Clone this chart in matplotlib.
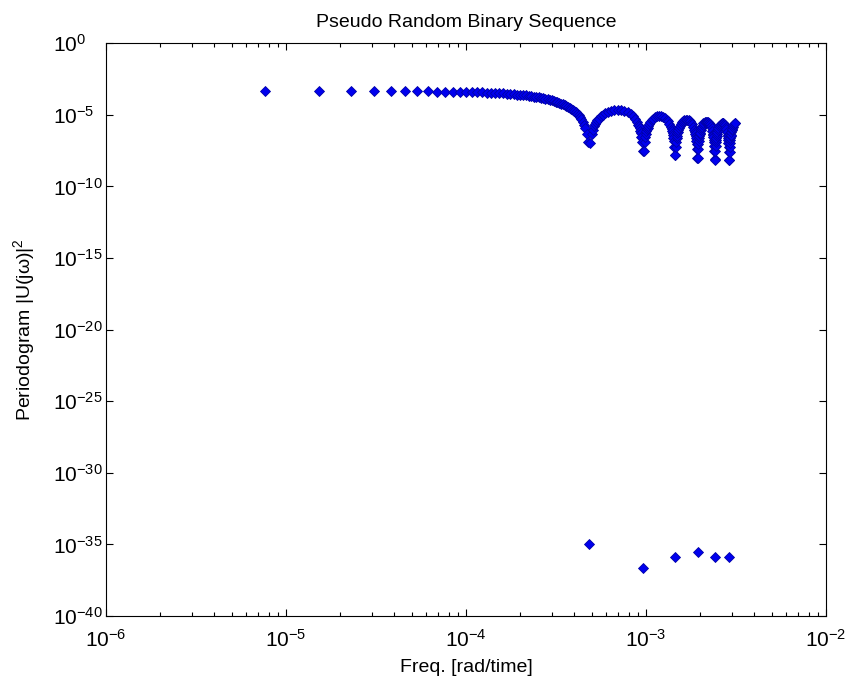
import numpy as np
import matplotlib
matplotlib.use("Agg")
import matplotlib.pyplot as plt
from matplotlib.ticker import FixedLocator, LogLocator, FuncFormatter, NullLocator, NullFormatter

plt.rcParams["font.family"] = ["Liberation Sans", "DejaVu Sans"]
plt.rcParams["mathtext.fontset"] = "custom"
plt.rcParams["mathtext.rm"] = "Liberation Sans"
plt.rcParams["mathtext.it"] = "Liberation Sans:italic"
plt.rcParams["mathtext.bf"] = "Liberation Sans:bold"
plt.rcParams["mathtext.default"] = "regular"

FREQ_RES = 7.672e-6   # rad/time per frequency bin

# periodogram: frequency bin -> log10 |U(jw)|^2
bins_lobe1 = [1, 2, 3, 4, 5, 6, 7, 8, 9, 10,
              11, 12, 13, 14, 15, 16, 17, 18, 19, 20,
              21, 22, 23, 24, 25, 26, 27, 28, 29, 30,
              31, 32, 33, 34, 35, 36, 37, 38, 39, 40,
              41, 42, 43, 44, 45, 46, 47, 48, 49, 50,
              51, 52, 53, 54, 55, 56, 57, 58, 59, 60,
              61, 62]
logp_lobe1 = [-3.35, -3.35, -3.35, -3.36, -3.36, -3.36, -3.37, -3.37, -3.38, -3.39,
              -3.39, -3.40, -3.41, -3.42, -3.43, -3.44, -3.46, -3.47, -3.48, -3.50,
              -3.51, -3.53, -3.55, -3.57, -3.59, -3.61, -3.63, -3.65, -3.68, -3.70,
              -3.73, -3.75, -3.78, -3.81, -3.84, -3.88, -3.91, -3.95, -3.99, -4.03,
              -4.07, -4.11, -4.16, -4.21, -4.26, -4.32, -4.38, -4.44, -4.51, -4.58,
              -4.65, -4.74, -4.83, -4.93, -5.04, -5.17, -5.31, -5.48, -5.69, -5.95,
              -6.31, -6.93]

bins_lobe2 = [64, 65, 66, 67, 68, 69, 70, 71, 73, 75, 77, 80, 83, 87, 91,
              95, 99, 103, 107, 110, 113, 116, 118, 119, 120, 121, 122, 123, 124, 125]
logp_lobe2 = [-6.95, -6.37, -6.03, -5.79, -5.62, -5.47, -5.36, -5.26, -5.10, -4.98,
              -4.89, -4.79, -4.72, -4.67, -4.66, -4.68, -4.74, -4.83, -4.96, -5.09,
              -5.26, -5.49, -5.68, -5.80, -5.93, -6.10, -6.29, -6.55, -6.90, -7.51]

bins_lobe3 = [127, 128, 129, 130, 131, 132, 133, 134, 136, 138, 140, 143, 146, 150, 154,
              158, 162, 166, 170, 173, 176, 179, 181, 182, 183, 184, 185, 186, 187, 188]
logp_lobe3 = [-7.52, -6.93, -6.58, -6.34, -6.16, -6.01, -5.89, -5.78, -5.61, -5.48,
              -5.38, -5.26, -5.18, -5.11, -5.08, -5.09, -5.13, -5.21, -5.33, -5.45,
              -5.61, -5.82, -6.01, -6.13, -6.26, -6.42, -6.61, -6.86, -7.22, -7.82]

bins_lobe4 = [190, 191, 192, 193, 194, 195, 196, 197, 199, 201, 203, 206, 209, 213, 217,
              221, 225, 229, 233, 236, 239, 242, 244, 245, 246, 247, 248, 249, 250, 251]
logp_lobe4 = [-7.83, -7.23, -6.89, -6.64, -6.45, -6.30, -6.18, -6.07, -5.90, -5.76,
              -5.66, -5.53, -5.44, -5.37, -5.33, -5.33, -5.36, -5.43, -5.54, -5.66,
              -5.82, -6.03, -6.21, -6.32, -6.46, -6.61, -6.81, -7.06, -7.41, -8.01]

bins_lobe5 = [253, 254, 255, 256, 257, 258, 259, 260, 262, 264, 266, 269, 272, 276, 280,
              284, 288, 292, 296, 299, 302, 305, 307, 308, 309, 310, 311, 312, 313, 314]
logp_lobe5 = [-8.02, -7.42, -7.07, -6.82, -6.64, -6.48, -6.36, -6.25, -6.07, -5.93,
              -5.82, -5.69, -5.60, -5.52, -5.48, -5.47, -5.50, -5.57, -5.67, -5.79,
              -5.94, -6.15, -6.33, -6.44, -6.57, -6.73, -6.92, -7.17, -7.52, -8.12]

bins_lobe6 = [316, 317, 318, 319, 320, 321, 322, 323, 325, 327, 329, 332, 335, 339, 343,
              347, 351, 355, 359, 362, 365, 368, 370, 371, 372, 373, 374, 375, 376, 377]
logp_lobe6 = [-8.13, -7.53, -7.18, -6.93, -6.74, -6.59, -6.46, -6.35, -6.17, -6.03,
              -5.92, -5.79, -5.69, -5.61, -5.56, -5.55, -5.58, -5.64, -5.74, -5.85,
              -6.00, -6.21, -6.39, -6.50, -6.63, -6.78, -6.98, -7.22, -7.57, -8.18]

bins_lobe7 = [379, 380, 381, 382, 383, 384, 385, 386, 388, 390, 392, 395, 398, 402, 406, 409]
logp_lobe7 = [-8.18, -7.58, -7.23, -6.98, -6.79, -6.63, -6.51, -6.40, -6.22, -6.07,
              -5.96, -5.83, -5.73, -5.64, -5.59, -5.58]

# bins that fall exactly on the spectral nulls (numerical zeros)
null_bins = [63, 126, 189, 252, 315, 378]
null_logp = [-35.0, -36.67, -35.9, -35.55, -35.9, -35.9]

bins = np.concatenate([bins_lobe1, bins_lobe2, bins_lobe3, bins_lobe4,
                       bins_lobe5, bins_lobe6, bins_lobe7, null_bins])
logp = np.concatenate([logp_lobe1, logp_lobe2, logp_lobe3, logp_lobe4,
                       logp_lobe5, logp_lobe6, logp_lobe7, null_logp])
freq = bins * FREQ_RES
power = 10.0 ** logp

fig = plt.figure(figsize=(8.51, 6.86), dpi=100)
ax = fig.add_axes([0.1246, 0.102, 0.846, 0.835])
ax.loglog(freq, power, linestyle="none", marker="D", ms=5.3,
          mfc="#0000ee", mec="#0000a8", mew=0.6)

ax.set_xlim(1e-6, 1e-2)
ax.set_ylim(1e-40, 1e0)

pow_fmt = FuncFormatter(lambda v, p: "$10^{%d}$" % int(round(np.log10(v))))
ax.xaxis.set_major_locator(LogLocator(base=10, numticks=10))
ax.xaxis.set_minor_locator(LogLocator(base=10, subs=np.arange(2, 10), numticks=20))
ax.xaxis.set_major_formatter(pow_fmt)
ax.xaxis.set_minor_formatter(NullFormatter())
ax.yaxis.set_major_locator(FixedLocator([10.0 ** e for e in range(-40, 1, 5)]))
ax.yaxis.set_minor_locator(NullLocator())
ax.yaxis.set_major_formatter(pow_fmt)

ax.tick_params(which="both", direction="in", top=True, right=True, labelsize=15, width=0.8)
ax.tick_params(which="major", length=5)
ax.tick_params(axis="y", which="major", pad=38)   # labels start ~53 px left of the axis
ax.tick_params(axis="x", which="major", pad=9)
ax.tick_params(which="minor", length=3)
for t in ax.yaxis.get_major_ticks():
    t.label1.set_horizontalalignment("left")
for s in ax.spines.values():
    s.set_linewidth(0.8)

ax.set_title("Pseudo Random Binary Sequence", fontsize=14, pad=12)
ax.set_xlabel("Freq. [rad/time]", fontsize=14, labelpad=6)
ax.set_ylabel("Periodogram |U(jω)|$^2$", fontsize=14, labelpad=12)

fig.savefig("out.png", dpi=100)
